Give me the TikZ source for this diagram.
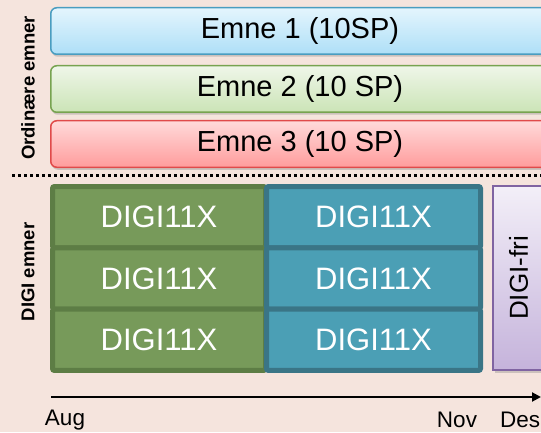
\documentclass[tikz,border=0pt]{standalone}
\usepackage{fontspec}
\setmainfont{Liberation Sans}
\usetikzlibrary{positioning}
\usetikzlibrary{shadows}
\usetikzlibrary{arrows.meta}

\definecolor{bakgrunn}{HTML}{F5E4DD}
\definecolor{blaatopp}{HTML}{E4F5FD}
\definecolor{blaabunn}{HTML}{AEDFF7}
\definecolor{blaakant}{HTML}{4A9DC0}
\definecolor{gronntopp}{HTML}{EFF6E9}
\definecolor{gronnbunn}{HTML}{CBE4B6}
\definecolor{gronnkant}{HTML}{77A350}
\definecolor{roedtopp}{HTML}{FFDADA}
\definecolor{roedbunn}{HTML}{FF9C9C}
\definecolor{roedkant}{HTML}{E04A4A}
\definecolor{digigronn}{HTML}{779A5A}
\definecolor{digigronnkant}{HTML}{5D7D45}
\definecolor{digiblaa}{HTML}{4B9FB5}
\definecolor{digiblaakant}{HTML}{3A7586}
\definecolor{fritopp}{HTML}{F3EFF8}
\definecolor{fribunn}{HTML}{C5B3DB}
\definecolor{frikant}{HTML}{8064A2}

\begin{document}
\begin{tikzpicture}[x=1pt, y=1pt, node distance=61.33pt,
    emne/.style={draw, line width=1.5pt, rounded corners=6pt,
      minimum width=498.5pt, minimum height=46.5pt, inner sep=0pt,
      font=\fontsize{29}{30}\selectfont,
      drop shadow={opacity=0.35, shadow xshift=1pt, shadow yshift=-2.5pt}},
    digi/.style={draw, line width=5pt, rounded corners=2pt,
      minimum height=61.33pt, inner sep=0pt, text=white,
      font=\fontsize{31}{32}\selectfont},
    digifri/.style={draw=frikant, line width=1.5pt, top color=fritopp,
      bottom color=fribunn, minimum width=51pt, minimum height=184pt,
      inner sep=0pt,
      drop shadow={opacity=0.35, shadow xshift=1.5pt, shadow yshift=-2.5pt}},
    sidetekst/.style={rotate=90, font=\bfseries\fontsize{18.5}{19}\selectfont},
    maaned/.style={font=\fontsize{22.5}{23}\selectfont, inner sep=0pt}]
  \fill[bakgrunn] (0,0) rectangle (541,432);
  \useasboundingbox (0,0) rectangle (541,432);
  \clip (0,0) rectangle (541,432);

  % ordinaere emner
  \node[emne, draw=blaakant, top color=blaatopp, bottom color=blaabunn] (emne1) at (300,401) {Emne 1 (10SP)};
  \node[emne, draw=gronnkant, top color=gronntopp, bottom color=gronnbunn] (emne2) at (300,343) {Emne 2 (10 SP)};
  \node[emne, draw=roedkant, top color=roedtopp, bottom color=roedbunn] (emne3) at (300,288) {Emne 3 (10 SP)};
  \node[sidetekst] (ordinaere) at (28,344) {Ordinære emner};

  % skillelinje
  \coordinate (skilleV) at (12,257);
  \coordinate (skilleH) at (541,257);
  \draw[line width=3pt, dash pattern=on 3pt off 3pt] (skilleV) -- (skilleH);

  % DIGI emner
  \node[digi, draw=digigronnkant, fill=digigronn, minimum width=213pt] (digiA1) at (159,214.83) {DIGI11X};
  \node[digi, draw=digigronnkant, fill=digigronn, minimum width=213pt, below of=digiA1] (digiA2) {DIGI11X};
  \node[digi, draw=digigronnkant, fill=digigronn, minimum width=213pt, below of=digiA2] (digiA3) {DIGI11X};
  \node[digi, draw=digiblaakant, fill=digiblaa, minimum width=214pt] (digiB1) at (373.5,214.83) {DIGI11X};
  \node[digi, draw=digiblaakant, fill=digiblaa, minimum width=214pt, below of=digiB1] (digiB2) {DIGI11X};
  \node[digi, draw=digiblaakant, fill=digiblaa, minimum width=214pt, below of=digiB2] (digiB3) {DIGI11X};
  \node[digifri] (digifri) at (518.5,154) {};
  \node[rotate=90, font=\fontsize{26}{27}\selectfont] (digifritekst) at (digifri.center) {DIGI-fri};
  \node[sidetekst] (digiemner) at (28,160) {DIGI emner};

  % tidslinje
  \coordinate (start) at (51,35);
  \coordinate (slutt) at (541,35);
  \draw[line width=2pt, -{Triangle[length=9pt, width=9pt]}] (start) -- (slutt);
  \node[maaned] (aug) at (65,12) {Aug};
  \node[maaned] (nov) at (457,12) {Nov};
  \node[maaned, anchor=west] (des) at (500,12) {Des};
\end{tikzpicture}
\end{document}
